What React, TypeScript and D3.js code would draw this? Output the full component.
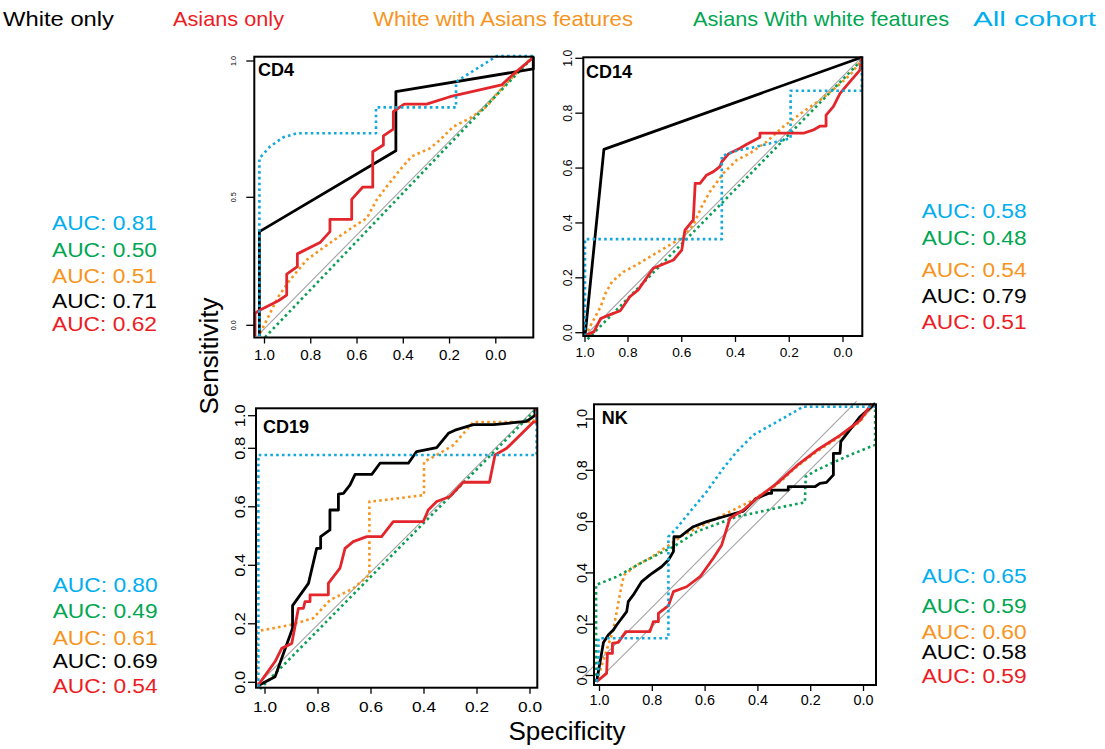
import React from "react";
import * as d3 from "d3";

type Pt = [number, number];

// ---------- categories / labels ----------
const seriesNames = ["White only", "Asians only", "White with Asians features", "Asians With white features", "All cohort"];
const panelNames = ["CD4", "CD14", "CD19", "NK"];
const xTicks = [1, 0.8, 0.6, 0.4, 0.2, 0];
const cd4YTicks = [0, 0.5, 1];
const yTicks = [0, 0.2, 0.4, 0.6, 0.8, 1];

// AUC values, listed in order: All cohort, Asians w/ white feat., White w/ Asian feat., White only, Asians only
const cd4Auc = [0.81, 0.5, 0.51, 0.71, 0.62];
const cd14Auc = [0.58, 0.48, 0.54, 0.79, 0.51];
const cd19Auc = [0.8, 0.49, 0.61, 0.69, 0.54];
const nkAuc = [0.65, 0.59, 0.6, 0.58, 0.59];

// ---------- ROC curves: [specificity, sensitivity] ----------
const cd4White: Pt[] = [[1.022,-0.042],[1.022,0.366],[0.432,0.671],[0.432,0.888],[-0.162,0.971],[-0.162,1.016]];
const cd4Asian: Pt[] = [[1.041,-0.042],[1.041,0.047],[1.019,0.06],[0.94,0.096],[0.904,0.118],[0.904,0.2],[0.858,0.229],[0.858,0.279],[0.76,0.323],[0.717,0.366],[0.717,0.414],[0.623,0.414],[0.623,0.492],[0.576,0.537],[0.532,0.537],[0.532,0.667],[0.486,0.692],[0.486,0.725],[0.443,0.75],[0.443,0.814],[0.396,0.842],[0.299,0.842],[0.198,0.869],[-0.025,0.912],[-0.076,0.952],[-0.162,1.013]];
const cd4WhiteAF: Pt[] = [[1.019,-0.031],[0.976,0.047],[0.94,0.112],[0.89,0.177],[0.818,0.255],[0.76,0.294],[0.688,0.34],[0.616,0.385],[0.558,0.418],[0.515,0.49],[0.472,0.539],[0.414,0.601],[0.364,0.65],[0.284,0.68],[0.241,0.711],[0.184,0.759],[0.112,0.79],[0.04,0.833],[-0.032,0.906],[-0.104,0.968],[-0.155,1.014]];
const cd4AsianWF: Pt[] = [[0.998,-0.047],[0.616,0.314],[0.184,0.709],[-0.155,1.009]];
const cd4Cohort: Pt[] = [[1.022,-0.042],[1.022,0.643],[0.976,0.686],[0.919,0.72],[0.861,0.735],[0.518,0.735],[0.518,0.83],[0.172,0.83],[0.172,0.924],[-0.004,1.018],[-0.162,1.018]];
const cd4Chance: Pt[] = [[1.03,-0.04],[-0.16,1.016]];

const cd14White: Pt[] = [[1.0,-0.012],[0.912,0.668],[-0.07,1.004]];
const cd14Asian: Pt[] = [[1.0,-0.012],[0.995,-0.009],[0.958,0.004],[0.927,0.052],[0.889,0.064],[0.836,0.08],[0.793,0.131],[0.762,0.156],[0.706,0.235],[0.631,0.265],[0.6,0.301],[0.588,0.374],[0.557,0.411],[0.55,0.544],[0.532,0.544],[0.507,0.575],[0.482,0.587],[0.458,0.605],[0.451,0.623],[0.427,0.651],[0.383,0.672],[0.358,0.687],[0.309,0.712],[0.309,0.727],[0.147,0.727],[0.11,0.739],[0.085,0.753],[0.063,0.753],[0.063,0.793],[0.036,0.824],[0.011,0.872],[-0.026,0.915],[-0.063,0.957],[-0.07,1.006]];
const cd14WhiteAF: Pt[] = [[1.0,-0.012],[0.927,0.095],[0.905,0.143],[0.874,0.186],[0.821,0.222],[0.768,0.247],[0.718,0.277],[0.656,0.313],[0.594,0.35],[0.557,0.392],[0.526,0.459],[0.495,0.514],[0.445,0.581],[0.396,0.629],[0.346,0.654],[0.284,0.696],[0.222,0.751],[0.147,0.806],[0.085,0.848],[0.023,0.897],[-0.026,0.939],[-0.07,0.994]];
const cd14AsianWF: Pt[] = [[0.988,-0.024],[0.445,0.478],[-0.07,0.994]];
const cd14Cohort: Pt[] = [[1.0,-0.012],[1.0,0.341],[0.451,0.341],[0.451,0.644],[0.396,0.663],[0.321,0.678],[0.247,0.696],[0.195,0.708],[0.195,0.882],[-0.07,0.882],[-0.07,1.006]];
const cd14Chance: Pt[] = [[1.0,-0.012],[-0.07,1.004]];

const cd19White: Pt[] = [[1.025,-0.011],[0.962,0.019],[0.896,0.185],[0.896,0.262],[0.836,0.338],[0.805,0.458],[0.79,0.458],[0.79,0.498],[0.755,0.521],[0.755,0.589],[0.723,0.589],[0.723,0.643],[0.704,0.646],[0.679,0.675],[0.66,0.711],[0.597,0.711],[0.566,0.749],[0.459,0.749],[0.428,0.789],[0.352,0.804],[0.308,0.892],[0.283,0.911],[0.214,0.945],[0.138,0.945],[0.063,0.957],[0.013,0.965],[-0.019,1.002],[-0.019,1.039]];
const cd19Asian: Pt[] = [[1.025,-0.009],[0.962,0.071],[0.937,0.116],[0.899,0.133],[0.874,0.253],[0.855,0.253],[0.849,0.276],[0.83,0.276],[0.83,0.299],[0.761,0.299],[0.761,0.338],[0.717,0.39],[0.698,0.458],[0.667,0.481],[0.616,0.498],[0.56,0.498],[0.516,0.549],[0.403,0.549],[0.384,0.589],[0.352,0.618],[0.302,0.635],[0.252,0.684],[0.153,0.684],[0.132,0.777],[0.088,0.8],[-0.013,0.961],[-0.025,0.961],[-0.025,1.039]];
const cd19WhiteAF: Pt[] = [[1.031,-0.009],[1.031,0.175],[0.969,0.185],[0.906,0.196],[0.818,0.219],[0.755,0.281],[0.667,0.321],[0.606,0.367],[0.606,0.618],[0.579,0.62],[0.4,0.64],[0.4,0.754],[0.352,0.777],[0.289,0.82],[0.214,0.961],[-0.013,0.961],[-0.019,1.027]];
const cd19AsianWF: Pt[] = [[1.019,-0.023],[0.503,0.451],[-0.019,1.033]];
const cd19Cohort: Pt[] = [[1.025,-0.015],[1.025,0.777],[-0.025,0.777],[-0.025,1.043]];
const cd19Chance: Pt[] = [[1.029,-0.009],[-0.019,1.043]];

const nkWhite: Pt[] = [[1.011,-0.024],[0.985,0.129],[0.967,0.158],[0.948,0.177],[0.935,0.197],[0.897,0.249],[0.891,0.288],[0.872,0.314],[0.84,0.366],[0.809,0.392],[0.765,0.424],[0.739,0.45],[0.72,0.483],[0.718,0.541],[0.695,0.541],[0.67,0.561],[0.645,0.58],[0.594,0.6],[0.531,0.619],[0.455,0.641],[0.405,0.691],[0.36,0.71],[0.348,0.71],[0.348,0.723],[0.285,0.723],[0.285,0.736],[0.184,0.736],[0.165,0.749],[0.14,0.753],[0.114,0.782],[0.114,0.866],[0.089,0.866],[0.086,0.912],[0.013,1.009],[-0.044,1.061]];
const nkAsian: Pt[] = [[1.011,-0.024],[0.973,0.008],[0.97,0.086],[0.951,0.086],[0.951,0.125],[0.929,0.129],[0.9,0.171],[0.809,0.171],[0.796,0.21],[0.777,0.21],[0.777,0.242],[0.739,0.272],[0.72,0.327],[0.67,0.346],[0.619,0.385],[0.569,0.457],[0.537,0.509],[0.506,0.613],[0.455,0.645],[0.405,0.69],[0.329,0.748],[0.253,0.818],[0.177,0.878],[0.089,0.936],[0.013,0.995],[-0.031,1.06]];
const nkWhiteAF: Pt[] = [[1.011,-0.024],[0.979,0.08],[0.948,0.177],[0.916,0.353],[0.907,0.392],[0.859,0.431],[0.809,0.457],[0.746,0.502],[0.682,0.548],[0.619,0.58],[0.531,0.626],[0.43,0.678],[0.329,0.743],[0.253,0.814],[0.177,0.873],[0.089,0.931],[0.013,0.99],[-0.025,1.042]];
const nkAsianWF: Pt[] = [[1.013,-0.024],[1.013,0.353],[0.935,0.385],[0.834,0.444],[0.72,0.502],[0.632,0.561],[0.48,0.619],[0.304,0.658],[0.222,0.675],[0.219,0.775],[0.177,0.801],[0.051,0.86],[-0.044,0.899],[-0.044,1.055]];
const nkCohort: Pt[] = [[1.011,-0.024],[1.004,0.015],[1.004,0.145],[0.739,0.145],[0.739,0.541],[0.708,0.574],[0.657,0.639],[0.594,0.717],[0.531,0.808],[0.48,0.873],[0.417,0.938],[0.304,1.003],[0.228,1.048],[-0.044,1.048]];
const nkChanceA: Pt[] = [[1.068,-0.011],[0.026,1.07]];
const nkChanceB: Pt[] = [[1.011,-0.024],[-0.047,1.057]];

// ---------- styles ----------
const lineColors = ["#000000", "#e3262b", "#f7941d", "#0a9e55", "#12a8dc"];
const textColors = ["#000000", "#ed1c24", "#f7941d", "#00a651", "#00aeef"];
const dotted = [false, false, true, true, true];
const drawOrder = [2, 3, 0, 1, 4];
const aucColorIdx = [4, 3, 2, 0, 1];

const FONT = "'Liberation Sans', Arial, Helvetica, sans-serif";

const panels = [
  {
    series: [cd4White, cd4Asian, cd4WhiteAF, cd4AsianWF, cd4Cohort], chance: [cd4Chance], auc: cd4Auc,
    box: [254.3, 56.7, 533.3, 337.5], xDom: [1, 0], xRng: [264.5, 495.8], yDom: [0, 0.5, 1], yRng: [325.3, 197.3, 61],
    yT: cd4YTicks, yFont: 8, yLen: 10, yLabelX: 233, xFont: 14, xLen: 21, xBase: 360, title: [258, 76],
    aucX: 52, aucY: [230, 256.7, 283.3, 308.3, 331],
  },
  {
    series: [cd14White, cd14Asian, cd14WhiteAF, cd14AsianWF, cd14Cohort], chance: [cd14Chance], auc: cd14Auc,
    box: [583.3, 57.3, 862.3, 336], xDom: [1, 0.8, 0], xRng: [585, 628, 843], yDom: [0, 1], yRng: [332.7, 58.3],
    yT: yTicks, yFont: 13, yLen: 17, yLabelX: 567, xFont: 13.5, xLen: 19, xBase: 357, title: [586, 78],
    aucX: 921.7, aucY: [218.3, 245, 276.7, 302.7, 329.3],
  },
  {
    series: [cd19White, cd19Asian, cd19WhiteAF, cd19AsianWF, cd19Cohort], chance: [cd19Chance], auc: cd19Auc,
    box: [256, 408.3, 537.3, 687.7], xDom: [1, 0], xRng: [265, 530], yDom: [0, 0.8, 1], yRng: [682.3, 448.3, 415.7],
    yT: yTicks, yFont: 14, yLen: 23, yLabelX: 240, xFont: 14, xLen: 24, xBase: 712, title: [263, 433],
    aucX: 52.7, aucY: [592.3, 618.3, 645, 668.3, 693.3],
  },
  {
    series: [nkWhite, nkAsian, nkWhiteAF, nkAsianWF, nkCohort], chance: [nkChanceA, nkChanceB], auc: nkAuc,
    box: [594, 404.3, 876, 685], xDom: [1, 0], xRng: [599.5, 863.5], yDom: [0, 1], yRng: [675.5, 419],
    yT: yTicks, yFont: 14, yLen: 20, yLabelX: 581.7, xFont: 14, xLen: 20, xBase: 705, title: [601.7, 424],
    aucX: 921.7, aucY: [583.3, 613.3, 639, 659, 683.3],
  },
];

const legendX = [3, 173, 373, 693, 973];
const legendLen = [111, 111, 260, 256, 123];

function Panel({ p, name }: { p: any; name: string }) {
  const x = d3.scaleLinear().domain(p.xDom).range(p.xRng);
  const y = d3.scaleLinear().domain(p.yDom).range(p.yRng);
  const line = d3.line<Pt>().x((d) => x(d[0])).y((d) => y(d[1]));
  const [bx0, by0, bx1, by1] = p.box;
  const fmt = d3.format(".1f");
  return (
    <g>
      {p.chance.map((c: Pt[], i: number) => (
        <path key={"c" + i} d={line(c) || ""} fill="none" stroke="#a3a3a3" strokeWidth={1.1} />
      ))}
      {drawOrder.map((si) => (
        <path
          key={"s" + si}
          d={line(p.series[si]) || ""}
          fill="none"
          stroke={lineColors[si]}
          strokeWidth={dotted[si] ? 2.6 : 2.8}
          strokeDasharray={dotted[si] ? "2.6 3.2" : undefined}
          strokeLinejoin="round"
        />
      ))}
      <rect x={bx0} y={by0} width={bx1 - bx0} height={by1 - by0} fill="none" stroke="#000" strokeWidth={2} />
      {xTicks.map((t) => (
        <g key={"xt" + t}>
          <line x1={x(t)} x2={x(t)} y1={by1} y2={by1 + 6} stroke="#000" strokeWidth={1.3} />
          <text x={x(t)} y={p.xBase} textAnchor="middle" fontSize={p.xFont} fontFamily={FONT}
            textLength={p.xLen} lengthAdjust="spacingAndGlyphs">{fmt(t)}</text>
        </g>
      ))}
      {p.yT.map((t: number) => (
        <g key={"yt" + t}>
          <line x1={bx0 - 8} x2={bx0} y1={y(t)} y2={y(t)} stroke="#000" strokeWidth={1.3} />
          <text transform={`translate(${p.yLabelX},${y(t)}) rotate(-90)`} dy="0.35em" textAnchor="middle"
            fontSize={p.yFont} fontFamily={FONT} textLength={p.yLen} lengthAdjust="spacingAndGlyphs">{fmt(t)}</text>
        </g>
      ))}
      <text x={p.title[0]} y={p.title[1]} fontSize={18} fontWeight="bold" fontFamily={FONT}>{name}</text>
      {p.auc.map((v: number, i: number) => (
        <text key={"a" + i} x={p.aucX} y={p.aucY[i]} fontSize={20} fontFamily={FONT}
          fill={textColors[aucColorIdx[i]]} textLength={105} lengthAdjust="spacingAndGlyphs">
          {"AUC: " + d3.format(".2f")(v)}
        </text>
      ))}
    </g>
  );
}

export default function App() {
  return (
    <svg width={1105} height={749} style={{ position: "absolute", left: 0, top: 0, background: "#fff" }}>
      <rect x={0} y={0} width={1105} height={749} fill="#fff" />
      {seriesNames.map((s, i) => (
        <text key={s} x={legendX[i]} y={26} fontSize={21} fontFamily={"'Liberation Sans Narrow', 'Liberation Sans', sans-serif"}
          fill={textColors[i]} textLength={legendLen[i]} lengthAdjust="spacingAndGlyphs">{s}</text>
      ))}
      {panels.map((p, i) => (
        <Panel key={panelNames[i]} p={p} name={panelNames[i]} />
      ))}
      <text transform="translate(218,356) rotate(-90)" textAnchor="middle" fontSize={26} fontFamily={FONT}>Sensitivity</text>
      <text x={567} y={740} textAnchor="middle" fontSize={26} fontFamily={FONT}>Specificity</text>
    </svg>
  );
}
